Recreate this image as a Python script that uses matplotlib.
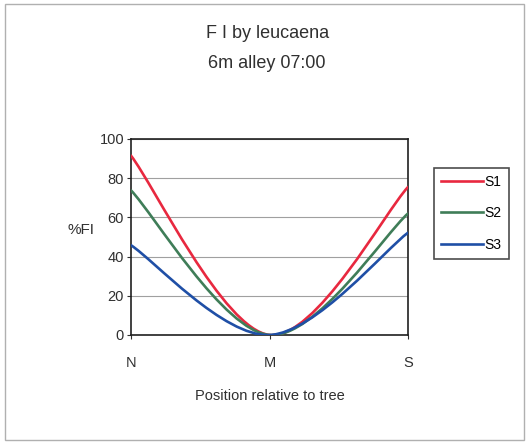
import matplotlib.pyplot as plt
from matplotlib.path import Path
from matplotlib.patches import PathPatch, Rectangle
from matplotlib.lines import Line2D

plt.rcParams['font.family'] = ['Liberation Sans', 'DejaVu Sans']

# data
positions = ['N', 'M', 'S']
s1 = [91.5, 0, 75.5]
s2 = [73.8, 0, 62]
s3 = [45.8, 0, 52.2]
series_names = ['S1', 'S2', 'S3']
colors = ['#e8283f', '#3f7d58', '#1f4fa6']


def smooth_path(ys):
    # excel style smoothed line (catmull-rom as bezier segments)
    pts = list(zip(range(len(ys)), ys))
    verts = [pts[0]]
    codes = [Path.MOVETO]
    for i in range(len(pts) - 1):
        p0 = pts[max(i - 1, 0)]
        p1 = pts[i]
        p2 = pts[i + 1]
        p3 = pts[min(i + 2, len(pts) - 1)]
        c1 = (p1[0] + (p2[0] - p0[0]) / 6, p1[1] + (p2[1] - p0[1]) / 6)
        c2 = (p2[0] - (p3[0] - p1[0]) / 6, p2[1] - (p3[1] - p1[1]) / 6)
        verts += [c1, c2, p2]
        codes += [Path.CURVE4] * 3
    return Path(verts, codes)


fig = plt.figure(figsize=(5.26, 4.42), dpi=100)
ax = fig.add_axes([131 / 526, 1 - 335 / 442, 277 / 526, 196 / 442])

handles = []
for ys, name, c in zip([s1, s2, s3], series_names, colors):
    ax.add_patch(PathPatch(smooth_path(ys), facecolor='none', edgecolor=c,
                           lw=1.9, capstyle='round', zorder=3))
    handles.append(Line2D([], [], color=c, lw=1.9, label=name))

ax.set_xlim(0, 2)
ax.set_ylim(0, 100)
ax.set_xticks(range(len(positions)))
ax.set_xticklabels(positions)
ax.set_yticks(range(0, 101, 20))
ax.grid(axis='y', color='#a0a0a0', lw=0.8)
ax.set_axisbelow(True)
for sp in ax.spines.values():
    sp.set_color('#202020')
    sp.set_linewidth(1.2)
ax.tick_params(axis='both', labelsize=10.5, colors='#303030', length=3,
               width=0.8, direction='out')
ax.tick_params(axis='x', pad=12)
ax.tick_params(axis='y', pad=2)

ax.set_xlabel('Position relative to tree', fontsize=10.5, labelpad=14,
              color='#303030')
ax.set_ylabel('%FI', fontsize=11, rotation=0, color='#303030')
ax.yaxis.set_label_coords(-0.18, 0.5)

fig.text(0.508, 1 - 34 / 442, 'F I by leucaena', ha='center', va='center',
         fontsize=13, color='#303030')
fig.text(0.508, 1 - 64 / 442, '6m alley 07:00', ha='center', va='center',
         fontsize=13, color='#303030')

leg = fig.legend(handles=handles, loc='upper left',
                 bbox_to_anchor=(434 / 526, 1 - 168 / 442),
                 frameon=True, fancybox=False, fontsize=10,
                 handlelength=3.0, handletextpad=0.15, labelspacing=1.25,
                 borderpad=0.5, borderaxespad=0)
leg.get_frame().set_edgecolor('#202020')
leg.get_frame().set_linewidth(1.2)

fig.patches.append(Rectangle((5 / 526, 2 / 442), 519 / 526, 436 / 442,
                             transform=fig.transFigure, fill=False,
                             edgecolor='#b0b0b0', lw=1.0))

fig.savefig('out.png', dpi=100)
